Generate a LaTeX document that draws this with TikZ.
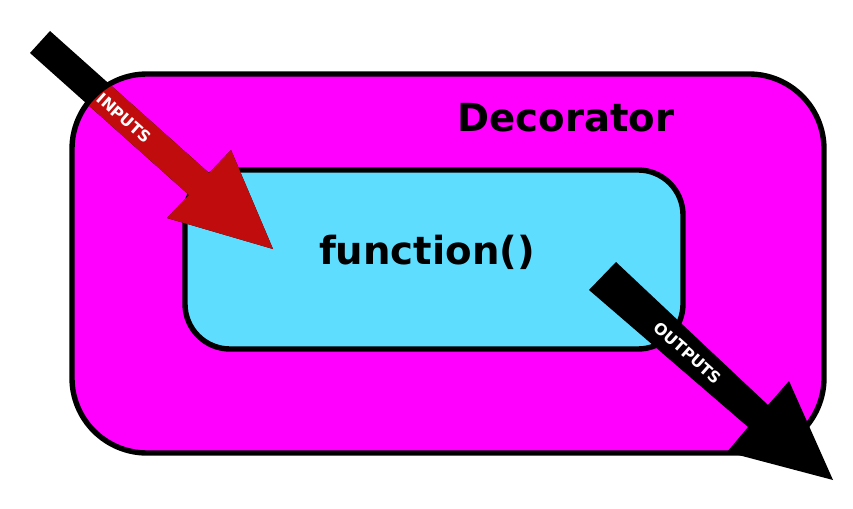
\documentclass[tikz,border=0pt]{standalone}
\usepackage{fontspec}
\setmainfont{DejaVu Sans}
\definecolor{mag}{HTML}{FF00FF}
\definecolor{cyanf}{HTML}{5EDDFF}
\definecolor{redf}{HTML}{C00C0C}
\begin{document}
\begin{tikzpicture}[x=0.03cm,y=-0.03cm,
  box/.style={draw=black,line width=4.6pt},
  lbl/.style={text=white,font=\bfseries\fontsize{13.5}{13.5}\selectfont,inner sep=0pt}]
\useasboundingbox (0,0) rectangle (853,508);
\draw[box,fill=mag,rounded corners=75*0.03cm] (72,74) rectangle (824,453);
\draw[box,fill=cyanf,rounded corners=45*0.03cm] (185,170) rectangle (683,349);
\node[font=\bfseries\fontsize{33}{33}\selectfont] (dec) at (566,118) {Decorator};
\node[font=\bfseries\fontsize{33}{33}\selectfont] (fn) at (427,252) {function()};
% input arrow
\fill[black] (50,31)--(209,173)--(231,150)--(273,249)--(167,218)--(189,195)--(30,53)--cycle;
\begin{scope}
\clip[rounded corners=73*0.03cm] (74.5,76.5) rectangle (821.5,450.5);
\fill[redf] (50,31)--(209,173)--(231,150)--(273,249)--(167,218)--(189,195)--(30,53)--cycle;
\end{scope}
\node[lbl,rotate=-41.6] (in) at (124,118) {INPUTS};
% output arrow
\fill[black] (616,262)--(768,405)--(789,381)--(833,480)--(727,452)--(748,427)--(589,290)--cycle;
\node[lbl,rotate=-41.6] (out) at (688,353) {OUTPUTS};
\end{tikzpicture}
\end{document}
